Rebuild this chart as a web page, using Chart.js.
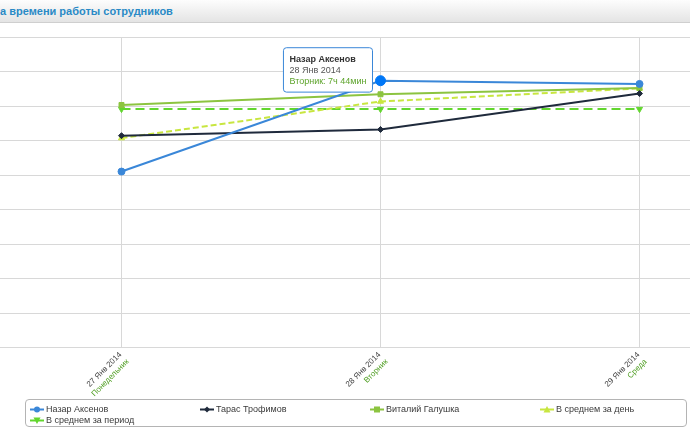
<!DOCTYPE html>
<html>
<head>
<meta charset="utf-8">
<script src="https://cdn.jsdelivr.net/npm/chart.js@4.4.1/dist/chart.umd.min.js"></script>
<style>
  html, body { margin:0; padding:0; }
  body { width:690px; height:430px; overflow:hidden; position:relative; background:#fff; font-family:"Liberation Sans", Arial, sans-serif; }
  #header { position:absolute; left:0; top:0; width:690px; height:22px; background:linear-gradient(#fdfdfd, #e4e4e4); border-bottom:1px solid #cfcfcf; }
  #title { position:absolute; left:0; top:5px; font-weight:bold; font-size:11px; color:#2a8ac6; white-space:nowrap; }
  #wrap { position:absolute; left:-8px; top:0; width:790px; height:400px; }
  #legend { position:absolute; left:25px; top:399px; width:662px; height:28px; border:1px solid #b4b4b4; border-radius:4px; box-sizing:border-box; }
  .li { position:absolute; font-size:9px; color:#3a3a3a; white-space:nowrap; line-height:11px; }
  .li svg { position:absolute; left:-16px; top:1px; }
</style>
</head>
<body>
<div id="header"><span id="title">а времени работы сотрудников</span></div>
<div id="wrap"><canvas id="c" width="790" height="400"></canvas></div>
<div id="legend"></div>
<script>
// ---- data ----
const dateLabels = ["27 Янв 2014", "28 Янв 2014", "29 Янв 2014"];
const dayNames = ["Понедельник", "Вторник", "Среда"];
const seriesNames = ["Назар Аксенов", "Тарас Трофимов", "Виталий Галушка", "В среднем за день", "В среднем за период"];
const nazarHours = [5.10, 7.733, 7.64];
const tarasHours = [6.14, 6.32, 7.36];
const vitaliyHours = [7.03, 7.34, 7.52];
const dailyAvgHours = [6.07, 7.13, 7.51];
const periodAvgHours = [6.91, 6.91, 6.91];
const yTicks = { min: 0, max: 9, step: 1 };

const seriesValues = [nazarHours, tarasHours, vitaliyHours, dailyAvgHours, periodAvgHours];
const seriesColors = ["#3a87d8", "#1f2a3c", "#8cc440", "#c8e640", "#62d62e"];
const seriesMarkers = ["circle", "rectRot", "rect", "triangle", "triangle"];
const seriesRotation = [0, 0, 0, 0, 180];
const seriesRadius = [3.5, 3, 3.5, 3.5, 3.5];
const seriesDash = [[], [], [], [6, 3], [9, 5]];

const FONT = '"Liberation Sans", Arial, sans-serif';

function fmtHours(h) {
  const hh = Math.floor(h);
  const mm = Math.round((h - hh) * 60);
  return hh + "ч " + mm + "мин";
}

Chart.Tooltip.positioners.leftAbove = function (items) {
  if (!items.length) return false;
  const el = items[0].element;
  return { x: el.x - 11, y: el.y - 33, xAlign: "right", yAlign: "top" };
};

const xLabelPlugin = {
  id: "xlabels",
  afterDatasetsDraw(chart) {
    const { ctx, chartArea, scales: { x } } = chart;
    ctx.save();
    ctx.font = "8px " + FONT;
    ctx.textAlign = "right";
    ctx.textBaseline = "middle";
    dateLabels.forEach((d, i) => {
      const px = x.getPixelForValue(i);
      ctx.save();
      ctx.translate(px - 1, chartArea.bottom + 6);
      ctx.rotate(-Math.PI / 4);
      ctx.fillStyle = "#444";
      ctx.fillText(d, 0, 0);
      ctx.fillStyle = "#4f9e22";
      ctx.fillText(dayNames[i], 0, 10);
      ctx.restore();
    });
    ctx.restore();
  }
};

const datasets = seriesNames.map((name, i) => ({
  label: name,
  data: seriesValues[i],
  borderColor: seriesColors[i],
  backgroundColor: seriesColors[i],
  pointBackgroundColor: seriesColors[i],
  pointBorderColor: seriesColors[i],
  pointBorderWidth: 1,
  pointStyle: seriesMarkers[i],
  pointRotation: seriesRotation[i],
  pointRadius: seriesRadius[i],
  pointHoverRadius: seriesRadius[i] + 1.5,
  pointHoverBorderWidth: 1,
  borderWidth: 2,
  borderDash: seriesDash[i],
  tension: 0,
  fill: false
}));

const chart = new Chart(document.getElementById("c"), {
  type: "line",
  data: { labels: dateLabels, datasets },
  options: {
    responsive: false,
    animation: false,
    events: [],
    clip: false,
    layout: { autoPadding: false, padding: { left: 0, right: 13, top: 37, bottom: 52.5 } },
    scales: {
      x: {
        type: "category",
        offset: true,
        grid: { offset: false, color: "#d8d8d8", drawTicks: false },
        border: { display: false },
        ticks: { display: false, padding: 0 },
        afterFit: s => { s.height = 0; s.paddingLeft = 0; s.paddingRight = 0; }
      },
      y: {
        min: yTicks.min, max: yTicks.max,
        ticks: { stepSize: yTicks.step, display: false, padding: 0 },
        grid: { color: "#d8d8d8", drawTicks: false },
        border: { display: false },
        afterFit: s => { s.width = 0; }
      }
    },
    plugins: {
      legend: { display: false },
      tooltip: {
        enabled: true,
        position: "leftAbove",
        xAlign: "right",
        yAlign: "top",
        backgroundColor: "#ffffff",
        borderColor: "#3a87d8",
        borderWidth: 1,
        cornerRadius: 3,
        caretSize: 0,
        caretPadding: 0,
        displayColors: false,
        padding: { left: 6, right: 6, top: 6, bottom: 5 },
        titleFont: { family: FONT, size: 9, weight: "bold" },
        titleColor: "#333333",
        titleMarginBottom: 0.5,
        bodyFont: { family: FONT, size: 9 },
        bodyColor: "#555555",
        footerFont: { family: FONT, size: 9, weight: "normal" },
        footerColor: "#5ea42c",
        footerMarginTop: 0.5,
        callbacks: {
          title: items => seriesNames[items[0].datasetIndex],
          label: item => dateLabels[item.dataIndex],
          footer: items => dayNames[items[0].dataIndex] + ": " + fmtHours(items[0].raw)
        }
      }
    }
  },
  plugins: [xLabelPlugin]
});

const active = [{ datasetIndex: 0, index: 1 }];
chart.setActiveElements(active);
const el = chart.getDatasetMeta(0).data[1];
chart.tooltip.setActiveElements(active, { x: el.x, y: el.y });
chart.update("none");

// ---- legend ----
const legend = document.getElementById("legend");
const colX = [20, 190, 360, 530];
seriesNames.forEach((name, i) => {
  const row = Math.floor(i / 4), col = i % 4;
  const d = document.createElement("div");
  d.className = "li";
  d.style.left = colX[col] + "px";
  d.style.top = (4 + row * 11) + "px";
  const c = seriesColors[i];
  let marker = "";
  if (seriesMarkers[i] === "circle") marker = `<circle cx="7" cy="4.5" r="3" fill="${c}"/>`;
  else if (seriesMarkers[i] === "rectRot") marker = `<polygon points="7,1.5 10,4.5 7,7.5 4,4.5" fill="${c}"/>`;
  else if (seriesMarkers[i] === "rect") marker = `<rect x="4" y="1.5" width="6" height="6" fill="${c}"/>`;
  else if (seriesRotation[i] === 180) marker = `<polygon points="3.5,1.5 10.5,1.5 7,8" fill="${c}"/>`;
  else marker = `<polygon points="7,1 10.5,7.5 3.5,7.5" fill="${c}"/>`;
  d.innerHTML = `<svg width="14" height="9"><line x1="0" y1="4.5" x2="14" y2="4.5" stroke="${c}" stroke-width="2"/>${marker}</svg>${name}`;
  legend.appendChild(d);
});
</script>
</body>
</html>
